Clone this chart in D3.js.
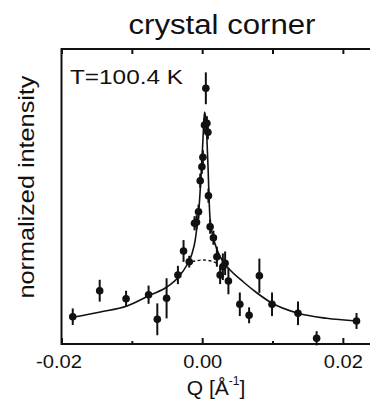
<!DOCTYPE html>
<html>
<head>
<meta charset="utf-8">
<script src="https://cdn.jsdelivr.net/npm/d3@7"></script>
<style>
  html, body { margin: 0; padding: 0; background: #fff; }
  svg { display: block; font-family: "Liberation Sans", Arial, sans-serif; }
</style>
</head>
<body>
<div id="chart"></div>
<script>
// measured points (Q in 1/Angstrom, normalized intensity, error)
const qVals = [-0.0184, -0.01457, -0.01082, -0.00762, -0.00638, -0.00506, -0.00345, -0.00265, -0.00184,
  -0.00109, -0.00081, -0.00052, -0.00028, -0.00004, 0.0001, 0.00033, 0.00052, 0.00067, 0.00081,
  0.00089, 0.00113, 0.0016, 0.00209, 0.00255, 0.00294, 0.00326, 0.00373, 0.00535, 0.00667,
  0.00813, 0.00993, 0.01362, 0.01627, 0.02194];
const intensity = [0.0925, 0.1807, 0.1536, 0.1671, 0.0837, 0.1549, 0.2339, 0.3153, 0.279,
  0.4092, 0.4125, 0.4485, 0.5536, 0.601, 0.6329, 0.7424, 0.8668, 0.7481, 0.7176,
  0.5027, 0.3976, 0.3603, 0.2959, 0.2339, 0.262, 0.2736, 0.2136, 0.1346, 0.0973,
  0.2315, 0.1346, 0.1041, 0.0193, 0.078];
const errs = [0.028, 0.037, 0.027, 0.031, 0.054, 0.068, 0.031, 0.037, 0.02,
  0.024, 0.024, 0.024, 0.024, 0.024, 0.024, 0.024, 0.054, 0.024, 0.024,
  0.024, 0.024, 0.024, 0.034, 0.031, 0.045, 0.04, 0.045, 0.04, 0.027,
  0.058, 0.04, 0.04, 0.024, 0.027];

// fitted curve (solid) and broad component (dashed)
const fitQ = [-0.0184, -0.01447, -0.01068, -0.00738, -0.00501, -0.00336, -0.00217, -0.00146, -0.00099,
  -0.00071, -0.00047, -0.00028, -0.00007, 0.00014, 0.00033, 0.0005, 0.00068, 0.00085, 0.00096,
  0.00113, 0.00156, 0.00213, 0.00298, 0.00397, 0.00586, 0.0078, 0.00989, 0.01366, 0.01769, 0.02194];
const fitI = [0.0905, 0.1085, 0.1288, 0.1661, 0.1932, 0.2271, 0.2678, 0.3051, 0.3525,
  0.4034, 0.4542, 0.522, 0.6068, 0.7085, 0.7864, 0.7661, 0.6915, 0.5898, 0.5051,
  0.4203, 0.3627, 0.3186, 0.278, 0.2508, 0.2102, 0.1729, 0.139, 0.1041, 0.0871, 0.078];
const broadQ = [-0.00217, -0.00075, 0.00018, 0.00138, 0.00231];
const broadI = [0.2736, 0.2824, 0.2847, 0.2803, 0.2712];

const majorTicks = [-0.02, 0.00, 0.02];
const minorTicks = [-0.01, 0.01];

const W = 370, H = 402;
const mLeft = 61.5, mRight = 371, mTop = 49, mBottom = 344;

const svg = d3.select('#chart').append('svg')
  .attr('width', W)
  .attr('height', H);

const x = d3.scaleLinear().domain([-0.02, 0.024]).range([mLeft, mRight]);
const y = d3.scaleLinear().domain([0, 1]).range([mBottom, mTop]);

const ink = '#111';

// frame
svg.append('rect')
  .attr('x', mLeft).attr('y', mTop)
  .attr('width', mRight - mLeft).attr('height', mBottom - mTop)
  .attr('fill', 'none').attr('stroke', ink).attr('stroke-width', 2);

// bottom axis: major ticks with labels, minor without
const fmt = d3.format('.2f');
const xMajor = d3.axisBottom(x).tickValues(majorTicks).tickSizeInner(-6).tickSizeOuter(0)
  .tickPadding(10).tickFormat(d => fmt(d).replace('\u2212', '-'));
const gx = svg.append('g').attr('transform', `translate(0,${mBottom})`).call(xMajor);
gx.select('.domain').remove();
gx.selectAll('line').attr('stroke', ink).attr('stroke-width', 2);
gx.selectAll('text')
  .attr('fill', ink)
  .style('font-size', '19px')
  .attr('dy', '0.75em')
  .attr('textLength', d => d < 0 ? 46 : 39)
  .attr('lengthAdjust', 'spacingAndGlyphs');
gx.selectAll('text').filter(d => d < 0).attr('dx', -3);

const xMinor = d3.axisBottom(x).tickValues(minorTicks).tickSizeInner(-3).tickSizeOuter(0).tickFormat('');
const gxm = svg.append('g').attr('transform', `translate(0,${mBottom})`).call(xMinor);
gxm.select('.domain').remove();
gxm.selectAll('line').attr('stroke', ink).attr('stroke-width', 2);

// top axis ticks
const xTop = d3.axisTop(x).tickValues(majorTicks.concat(minorTicks)).tickSizeInner(-5).tickSizeOuter(0).tickFormat('');
const gt = svg.append('g').attr('transform', `translate(0,${mTop})`).call(xTop);
gt.select('.domain').remove();
gt.selectAll('line').attr('stroke', ink).attr('stroke-width', 2);

// curves
const line = d3.line().x(d => x(d[0])).y(d => y(d[1])).curve(d3.curveMonotoneX);
svg.append('path')
  .datum(fitQ.map((q, i) => [q, fitI[i]]))
  .attr('d', line)
  .attr('fill', 'none').attr('stroke', ink).attr('stroke-width', 1.6);
svg.append('path')
  .datum(broadQ.map((q, i) => [q, broadI[i]]))
  .attr('d', line)
  .attr('fill', 'none').attr('stroke', ink).attr('stroke-width', 1.4)
  .attr('stroke-dasharray', '3,2.5');

// data with error bars
const pts = qVals.map((q, i) => ({ q: q, v: intensity[i], e: errs[i] }));
svg.selectAll('line.err')
  .data(pts)
  .enter()
  .append('line')
  .attr('class', 'err')
  .attr('x1', d => x(d.q)).attr('x2', d => x(d.q))
  .attr('y1', d => y(d.v - d.e)).attr('y2', d => y(d.v + d.e))
  .attr('stroke', ink).attr('stroke-width', 2);
svg.selectAll('circle')
  .data(pts)
  .enter()
  .append('circle')
  .attr('cx', d => x(d.q))
  .attr('cy', d => y(d.v))
  .attr('r', 3.8)
  .attr('fill', ink);

// texts
svg.append('text')
  .attr('x', 222).attr('y', 34)
  .attr('text-anchor', 'middle')
  .style('font-size', '27px')
  .attr('textLength', 187).attr('lengthAdjust', 'spacingAndGlyphs')
  .attr('fill', ink)
  .text('crystal corner');

svg.append('text')
  .attr('x', 70).attr('y', 84)
  .style('font-size', '21px')
  .attr('textLength', 113).attr('lengthAdjust', 'spacingAndGlyphs')
  .attr('fill', ink)
  .text('T=100.4 K');

svg.append('text')
  .attr('transform', 'translate(34,187) rotate(-90)')
  .attr('text-anchor', 'middle')
  .style('font-size', '22px')
  .attr('textLength', 223).attr('lengthAdjust', 'spacingAndGlyphs')
  .attr('fill', ink)
  .text('normalized intensity');

const ql = svg.append('text')
  .attr('x', 216).attr('y', 395)
  .attr('text-anchor', 'middle')
  .style('font-size', '21px')
  .attr('fill', ink);
ql.append('tspan').text('Q [Å');
ql.append('tspan').attr('dy', -10).style('font-size', '12px').text('-1');
ql.append('tspan').attr('dy', 10).text(']');
</script>
</body>
</html>
